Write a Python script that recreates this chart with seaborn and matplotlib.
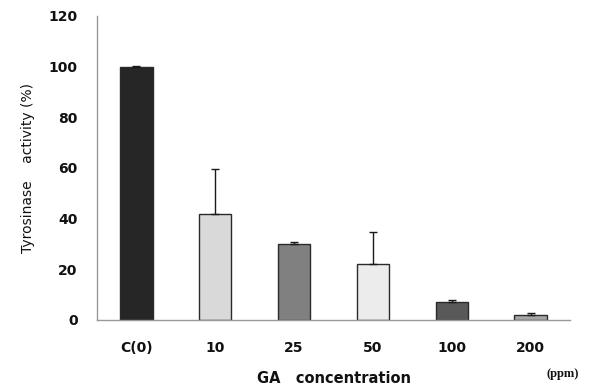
import numpy as np
import pandas as pd
import matplotlib
matplotlib.use("Agg")
import matplotlib.pyplot as plt
import seaborn as sns

labels = ["C(0)", "10", "25", "50", "100", "200"]
activity = [100.0, 42.0, 30.0, 22.0, 7.0, 1.8]
err_up = [0.3, 17.6, 0.8, 12.7, 0.9, 0.8]
colors = ["#262626", "#d9d9d9", "#808080", "#ececec", "#595959", "#a6a6a6"]

df = pd.DataFrame({"conc": labels, "act": activity})

sns.set_style("white")
plt.rcParams["font.family"] = ["DejaVu Sans"]
plt.rcParams["text.color"] = "#111111"
plt.rcParams["xtick.color"] = "#111111"
plt.rcParams["ytick.color"] = "#111111"
plt.rcParams["axes.labelcolor"] = "#111111"

fig = plt.figure(figsize=(5.93, 3.88), dpi=100)
ax = fig.add_axes([0.1636, 0.1753, 0.7976, 0.7835])

sns.barplot(data=df, x="conc", y="act", hue="conc", palette=colors,
            legend=False, width=0.41, edgecolor="#2a2a2a", linewidth=1.0,
            errorbar=None, ax=ax)
ax.errorbar(np.arange(len(labels)), activity,
            yerr=[np.zeros(len(labels)), err_up],
            fmt="none", ecolor="#1a1a1a", elinewidth=1.0, capsize=3, capthick=1.0)

ax.set_xlim(-0.5, len(labels) - 0.5)
ax.set_ylim(0, 120)
ax.set_yticks(range(0, 121, 20))
ax.set_xticks(np.arange(-0.5, len(labels), 1.0), minor=False)
ax.set_xticklabels([])
ax.set_xticks(np.arange(len(labels)), minor=True)
ax.set_xticklabels(labels, minor=True, fontsize=10, fontweight="bold")
ax.tick_params(axis="x", which="minor", length=0, pad=15)
ax.tick_params(axis="x", which="major", direction="out", length=5,
               color="#999999", width=1)
ax.tick_params(axis="y", direction="out", length=6, color="#cccccc",
               width=1, pad=8, labelsize=10)
for t in ax.get_yticklabels():
    t.set_fontweight("bold")

for s in ["top", "right"]:
    ax.spines[s].set_visible(False)
for s in ["left", "bottom"]:
    ax.spines[s].set_color("#999999")
    ax.spines[s].set_linewidth(1.0)

ax.set_ylabel("Tyrosinase    activity (%)", fontsize=10, labelpad=10)
ax.set_xlabel("GA   concentration", fontsize=10.5, fontweight="bold", labelpad=12)
fig.text(0.922, 0.036, "(ppm)", fontsize=9, fontweight="bold",
         family="Liberation Serif", va="center")

fig.savefig("out.png", dpi=100)
